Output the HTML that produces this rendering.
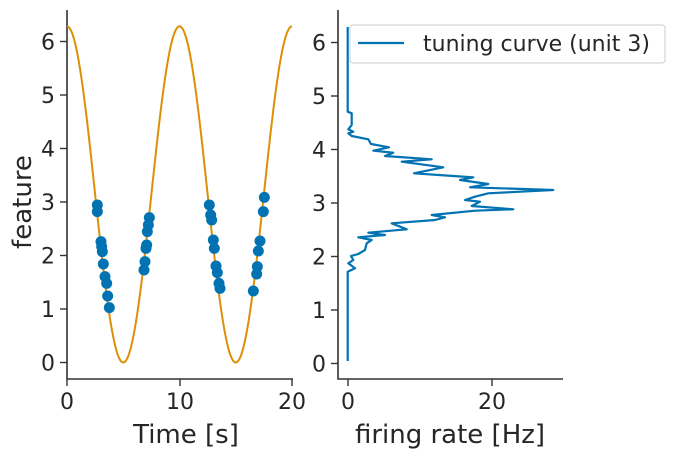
<!DOCTYPE html>
<html><head><meta charset="utf-8"><style>
html,body{margin:0;padding:0;background:#fff;}
svg text{font-family:"DejaVu Sans","Liberation Sans",sans-serif;fill:#262626;}
</style></head><body>
<svg id="s" width="678" height="455" viewBox="0 0 678 455" xmlns="http://www.w3.org/2000/svg">
<g stroke="#333" stroke-width="1.6" fill="none">
<path d="M67,10V379H293"/>
<path d="M338,10V379H563"/>
</g>
<g stroke="#333" stroke-width="1.4" id="ticks"></g>
<g font-size="22" text-anchor="end" id="ylab"></g>
<g font-size="22" text-anchor="middle">
<text x="67" y="409">0</text><text x="180" y="409">10</text><text x="292" y="409">20</text>
<text x="348" y="409">0</text><text x="492" y="409">20</text>
<text x="186" y="443" font-size="26">Time [s]</text>
<text x="450" y="443" font-size="26">firing rate [Hz]</text>
<text transform="translate(31,202) rotate(-90)" font-size="26">feature</text>
</g>
<path id="cos" fill="none" stroke="#de8f05" stroke-width="2"/>
<g id="dots" fill="#0173b2"></g>
<polyline fill="none" stroke="#0173b2" stroke-width="2.2" stroke-linejoin="round" points="347.7,27 347.7,111.7 351.7,113.3 351.7,125 348.3,129.3 353.3,131.7 348.3,133.3 351.7,136 368.3,139.3 371,144 389,147.3 373.3,150.7 393.3,152.7 385,156 431.7,159.3 401.7,161.7 443.3,167.3 414,173.3 453.3,176 473.3,177.3 460,180 488.3,184 470,187.3 553.3,190 488.3,193.3 475,196.7 465,200 480,201.7 471.7,206 513.3,209.3 475,210.7 431.7,215 445,217.3 435,220 391.7,223.3 406.7,229.3 368.3,232.7 385,235 358.3,237.3 371.7,240 366.7,243.3 365,250 358.3,254 351,256 353.3,260 348.3,263.3 355,268.3 347.7,271.7 347.7,361"/>
<rect x="350" y="25" width="315" height="38" rx="3" fill="#fff" stroke="#ccc" stroke-width="1"/>
<line x1="358" y1="43" x2="404" y2="43" stroke="#0173b2" stroke-width="2.2"/>
<text x="423" y="51" font-size="22">tuning curve (unit 3)</text>
</svg>
<script>
var ns="http://www.w3.org/2000/svg";
function el(p,t,a,txt){var e=document.createElementNS(ns,t);for(var k in a)e.setAttribute(k,a[k]);if(txt!==undefined)e.textContent=txt;document.getElementById(p).appendChild(e);}
for(var i=0;i<=6;i++){var y=362.5-i*53.5;
el("ticks","line",{x1:60,x2:67,y1:y,y2:y});el("ticks","line",{x1:331,x2:338,y1:y+1,y2:y+1});
el("ylab","text",{x:55,y:y+8},String(i));el("ylab","text",{x:326,y:y+9},String(i));}
[67,180,292,348,492].forEach(function(x){el("ticks","line",{x1:x,x2:x,y1:379,y2:386});});
var d="";for(var j=0;j<=400;j++){var t=j/20;var v=Math.PI+Math.PI*Math.cos(2*Math.PI*t/10);
d+=(j?"L":"M")+(67+t*11.25).toFixed(2)+","+(362.5-v*53.5).toFixed(2);}
document.getElementById("cos").setAttribute("d",d);
var z=[[112,75],[112,95],[123,185],[125,200],[127,215],[130,252],[135,290],[140,310],[143,348],[148,383],
[268,113],[265,135],[262,155],[260,195],[258,205],[255,245],[252,270],
[448,75],[452,105],[455,120],[460,180],[463,205],[468,258],[472,278],[477,310],[480,325],
[613,52],[610,95],[600,183],[595,213],[592,260],[590,282],[580,333]];
z.forEach(function(p){el("dots","circle",{cx:60+p[0]/3,cy:180+p[1]/3,r:5.5});});
</script>
</body></html>
